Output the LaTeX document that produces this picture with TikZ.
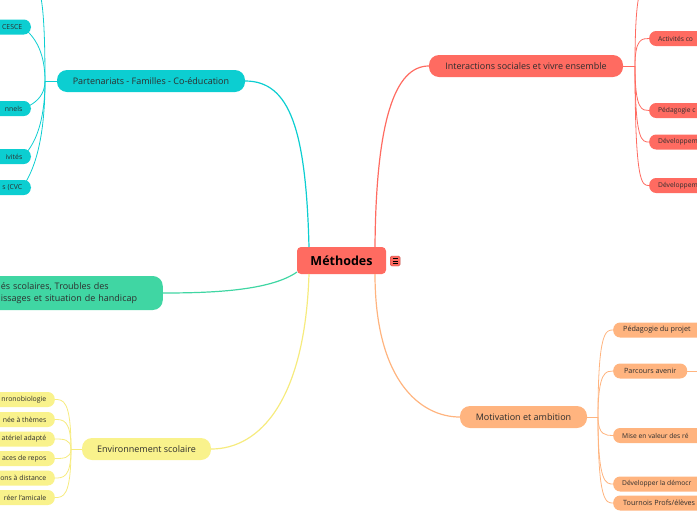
\documentclass[tikz,border=0pt]{standalone}
\usepackage{fontspec}
\setmainfont{Open Sans}
\definecolor{methred}{HTML}{FF6B61}
\definecolor{partcyan}{HTML}{0CCED1}
\definecolor{diffgreen}{HTML}{40D6A3}
\definecolor{envyellow}{HTML}{F9F28C}
\definecolor{envline}{HTML}{F6EB7E}
\definecolor{motorange}{HTML}{FFB47F}
\definecolor{ink}{HTML}{2E2E2E}
\tikzset{
  topic/.style={rounded corners=10pt, minimum height=22pt, inner xsep=13pt, inner ysep=2pt, font=\fontsize{9}{12.5}\selectfont, text=ink},
  leaf/.style={rounded corners=7pt, minimum height=15pt, inner xsep=10pt, inner ysep=1pt, font=\fontsize{7.2}{8}\selectfont, text=ink},
  leftleaf/.style={leaf, anchor=east, inner xsep=8.5pt, font=\fontsize{6.9}{8}\selectfont},
  rightleaf/.style={leaf, anchor=west, inner xsep=9pt, font=\fontsize{6.7}{8}\selectfont},
  link/.style={line width=1.2pt},
  twig/.style={line width=0.8pt}
}
\begin{document}
\begin{tikzpicture}[x=1pt, y=-1pt]
  \useasboundingbox (0,0) rectangle (697,520);
  \clip (0,0) rectangle (697,520);

  \node[fill=methred, rounded corners=4pt, minimum width=89pt, minimum height=27pt, inner sep=0pt, font=\fontsize{12.5}{14}\selectfont\bfseries] (meth) at (341.5,260.5) {Méthodes};
  \node[draw=methred!75!black, fill=methred, rounded corners=1.5pt, minimum size=10pt, inner sep=0pt, anchor=west] (menu) at (390,261) {};
  \foreach \dy in {-2.5,0,2.5}
    \draw[line width=0.7pt] ([xshift=-2.6pt,yshift=\dy pt]menu.center) -- ++(5.2pt,0);

  \node[topic, fill=partcyan, minimum width=188pt] (part) at (151,81) {Partenariats - Familles - Co-éducation};
  \node[topic, fill=diffgreen, anchor=east, text width=150pt, align=left, inner xsep=12pt, inner ysep=4pt, minimum height=34pt] (diff) at (163,293) {és scolaires, Troubles des\\issages et situation de handicap};
  \node[topic, fill=envyellow, minimum width=129pt] (env) at (146.5,449) {Environnement scolaire};
  \node[topic, fill=methred, minimum width=194pt] (inter) at (526,66) {Interactions sociales et vivre ensemble};
  \node[topic, fill=motorange, minimum width=127pt] (motiv) at (523.5,417) {Motivation et ambition};

  \draw[link, partcyan] (309,247) .. controls (306,130) and (290,81) .. (part.east);
  \draw[link, diffgreen] (297,272) .. controls (270,291) and (210,293) .. (diff.east);
  \draw[link, envline] (309,274) .. controls (305,400) and (260,449) .. (env.east);
  \draw[link, methred] (375,247) .. controls (376,120) and (395,66) .. (inter.west);
  \draw[link, motorange] (375,274) .. controls (375,380) and (420,417) .. (motiv.west);

  \node[leftleaf, fill=partcyan] (p1) at (31,27) {\hspace*{20pt}CESCE};
  \node[leftleaf, fill=partcyan] (p2) at (31,108.5) {\hspace*{20pt}nnels};
  \node[leftleaf, fill=partcyan] (p3) at (31,156.5) {\hspace*{20pt}ivités};
  \node[leftleaf, fill=partcyan] (p4) at (31,187.5) {\hspace*{20pt}s (CVC};
  \coordinate (p0) at (31,-16);
  \coordinate (pj) at (45,81);
  \draw[twig, partcyan] (part.west) -- (pj);
  \foreach \c in {p0,p1,p2,p3,p4}
    \draw[twig, partcyan] (pj) .. controls (pj |- \c) and ([xshift=7pt]\c) .. (\c);

  \node[leftleaf, fill=envyellow] (e1) at (55,399.5) {\hspace*{20pt}nronobiologie};
  \node[leftleaf, fill=envyellow] (e2) at (55,419.5) {\hspace*{20pt}née à thèmes};
  \node[leftleaf, fill=envyellow] (e3) at (55,439) {\hspace*{20pt}atériel adapté};
  \node[leftleaf, fill=envyellow] (e4) at (55,458.5) {\hspace*{20pt}aces de repos};
  \node[leftleaf, fill=envyellow] (e5) at (55,478) {\hspace*{20pt}ons à distance};
  \node[leftleaf, fill=envyellow] (e6) at (55,497.5) {\hspace*{20pt}réer l'amicale};
  \coordinate (ej) at (71,449);
  \draw[twig, envline] (env.west) -- (ej);
  \foreach \c in {e1,e2,e3,e4,e5,e6}
    \draw[twig, envline] (ej) .. controls (ej |- \c.east) and ([xshift=8pt]\c.east) .. (\c.east);

  \node[rightleaf, fill=methred] (i1) at (649,38.5) {Activités co\hspace*{20pt}};
  \node[rightleaf, fill=methred] (i2) at (649,110.5) {Pédagogie c\hspace*{20pt}};
  \node[rightleaf, fill=methred] (i3) at (649,142) {Développem\hspace*{20pt}};
  \node[rightleaf, fill=methred] (i4) at (649,185.5) {Développem\hspace*{20pt}};
  \coordinate (i0) at (649,-16);
  \coordinate (ij) at (635,66);
  \draw[twig, methred] (inter.east) -- (ij);
  \foreach \c in {i0,i1.west,i2.west,i3.west,i4.west}
    \draw[twig, methred] (ij) .. controls (ij |- \c) and ([xshift=-7pt]\c) .. (\c);

  \node[leaf, fill=motorange, anchor=west] (m1) at (613,330) {Pédagogie du projet\hspace*{4pt}};
  \node[leaf, fill=motorange, anchor=west, minimum width=74pt, align=left] (m2) at (613,371) {Parcours avenir};
  \node[rightleaf, fill=motorange] (m3) at (613,435.5) {Mise en valeur des ré\hspace*{20pt}};
  \node[rightleaf, fill=motorange] (m4) at (613,484) {Développer la démocr\hspace*{20pt}};
  \node[leaf, fill=motorange, anchor=west] (m5) at (613,503) {Tournois Profs/élèves\hspace*{6pt}};
  \coordinate (mj) at (598,417);
  \coordinate (m2x) at (712,371);
  \draw[twig, motorange] (motiv.east) -- (mj);
  \foreach \c in {m1,m2,m3,m4,m5}
    \draw[twig, motorange] (mj) .. controls (mj |- \c.west) and ([xshift=-7pt]\c.west) .. (\c.west);
  \draw[twig, motorange] (m2.east) -- (m2x);
\end{tikzpicture}
\end{document}
